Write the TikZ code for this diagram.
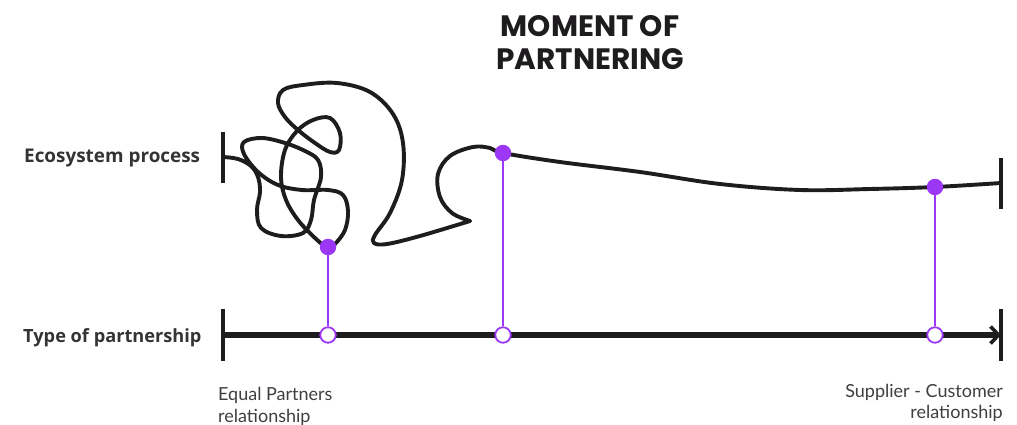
\documentclass[tikz,border=0pt]{standalone}
\usepackage{fontspec}
\setmainfont{Lato}
\newfontfamily\titlefont{Poppins}
\newfontfamily\labfont{Open Sans}
\usetikzlibrary{arrows.meta}
\definecolor{pur}{RGB}{155,55,245}
\definecolor{ink}{RGB}{30,28,30}
\tikzset{
  curve/.style={draw=ink,line width=3.9pt,line cap=round,line join=round},
  bar/.style={draw=ink,line width=3.4pt},
  axis/.style={draw=ink,line width=5.4pt},
  fdot/.style={circle,fill=pur,inner sep=0pt,minimum size=16.5pt},
  odot/.style={circle,draw=pur,line width=1.8pt,fill=white,inner sep=0pt,minimum size=15.5pt},
  stem/.style={draw=pur,line width=1.3pt},
  lab/.style={font=\labfont\bfseries\fontsize{18.9}{22}\selectfont,text=ink!90,anchor=base west,inner sep=0pt},
  ttl/.style={font=\titlefont\bfseries\fontsize{29.5}{32}\selectfont,text=ink,anchor=base,inner sep=0pt},
  sub/.style={font=\fontsize{18}{22}\selectfont,text=ink!85,inner sep=0pt},
}
\begin{document}
\begin{tikzpicture}[x=1pt,y=-1pt]
\useasboundingbox (0,0) rectangle (1017,425);
% title
\node[ttl] (title1) at (590,36.7) {MOMENT OF};
\node[ttl] (title2) at (590,70) {PARTNERING};
% row labels
\node[lab] (eco) at (24,162.3) {Ecosystem process};
\node[lab,font=\labfont\bfseries\fontsize{18.2}{22}\selectfont] (type) at (23,342.3) {Type of partnership};
% bars
\coordinate (e0) at (223,157);
\coordinate (e1) at (1001,183);
\draw[bar] (223,132) -- (223,183);
\draw[bar] (1001,158) -- (1001,209);
\coordinate (a0) at (223,335);
\coordinate (a1) at (1001,335);
\draw[bar] (223,309) -- (223,361);
\draw[bar] (1001,309) -- (1001,361);
\draw[axis,-{Straight Barb[length=8pt,width=17pt,line width=3.6pt]}] (a0) -- (a1);
% scribble
\draw[curve] plot[smooth,tension=0.6] coordinates {
 (223,157) (238,159) (251,166) (258,177) (260,192) (257,210) (261,228) (281,236)
 (303,233) (311,220) (314,200) (321,177) (318,160) (305,151) (285,143) (262,138)
 (244,142) (244,154) (258,172) (278,185) (302,190) (328,190) (343,195) (348,211)
 (345,230) (335,244) (328,248) (315,238) (298,220) (286,200) (281,177) (285,150)
 (297,131) (313,120) (330,118) (340,133) (339,150) (330,152) (315,143) (298,130)
 (285,117) (278,103) (283,90) (303,85) (337,83) (370,92) (393,114) (403,143)
 (402,180) (390,213) (375,235) (374,243) (387,244) (420,236) (470,221)};
\draw[curve] plot[smooth,tension=0.6] coordinates {
 (470,221) (452,213) (440,197) (438,174) (450,156) (473,147) (490,148) (503,153)
 (560,162) (640,172) (720,184) (800,190) (870,189) (935,187) (1001,183)};
% stems and dots
\node[fdot] (d1) at (328,247) {};
\node[fdot] (d2) at (503,153) {};
\node[fdot] (d3) at (935,187) {};
\node[odot] (c1) at (328,335) {};
\node[odot] (c2) at (503,335) {};
\node[odot] (c3) at (935,335) {};
\draw[stem] (d1) -- (c1);
\draw[stem] (d2) -- (c2);
\draw[stem] (d3) -- (c3);
% bottom labels
\node[sub,anchor=base west] (eq1) at (218,400) {Equal Partners};
\node[sub,anchor=base west] (eq2) at (218,422) {relationship};
\node[sub,anchor=base east] (sc1) at (1003,397) {Supplier - Customer};
\node[sub,anchor=base east] (sc2) at (1003,418.6) {relationship};
\end{tikzpicture}
\end{document}
